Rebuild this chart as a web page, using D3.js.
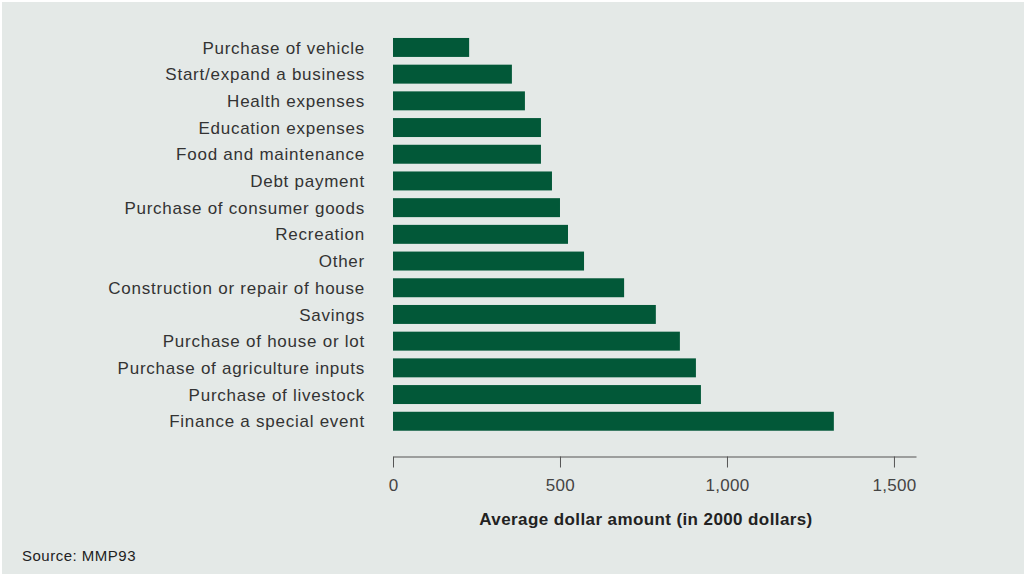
<!DOCTYPE html>
<html>
<head>
<meta charset="utf-8">
<script src="https://cdn.jsdelivr.net/npm/d3@7"></script>
<style>
  body { margin: 0; background: #fff; }
  text { font-family: "Liberation Sans", Arial, sans-serif; }
</style>
</head>
<body>
<div class="canvas"></div>
<script>
// data
const categories = [
  'Purchase of vehicle',
  'Start/expand a business',
  'Health expenses',
  'Education expenses',
  'Food and maintenance',
  'Debt payment',
  'Purchase of consumer goods',
  'Recreation',
  'Other',
  'Construction or repair of house',
  'Savings',
  'Purchase of house or lot',
  'Purchase of agriculture inputs',
  'Purchase of livestock',
  'Finance a special event'
];
const amounts = [228, 356, 395, 443, 443, 476, 500, 524, 572, 692, 787, 859, 907, 922, 1320];
const tickValues = [0, 500, 1000, 1500];
const axisTitle = 'Average dollar amount (in 2000 dollars)';
const sourceNote = 'Source: MMP93';

const width = 1026, height = 577;

const svg = d3.select('.canvas')
    .append('svg')
    .attr('width', width)
    .attr('height', height);

// panel background
svg.append('rect')
    .attr('x', 2).attr('y', 2)
    .attr('width', width - 4).attr('height', height - 5)
    .attr('fill', '#e4e9e7');

const x = d3.scaleLinear()
    .domain([0, 1566])
    .range([393, 916]);

const y = d3.scaleBand()
    .domain(categories)
    .range([34.1, 434.6])
    .paddingInner(0.29)
    .paddingOuter(0.145);

// bars
svg.selectAll('rect.bar')
    .data(categories)
    .enter()
    .append('rect')
    .attr('class', 'bar')
    .attr('x', x(0))
    .attr('y', d => y(d))
    .attr('width', (d, i) => x(amounts[i]) - x(0))
    .attr('height', y.bandwidth())
    .attr('fill', '#025838');

// category labels
svg.selectAll('text.cat')
    .data(categories)
    .enter()
    .append('text')
    .attr('class', 'cat')
    .attr('x', 365)
    .attr('y', d => y(d) + y.bandwidth() / 2)
    .attr('dy', '0.36em')
    .attr('text-anchor', 'end')
    .attr('font-size', 17)
    .attr('letter-spacing', 0.75)
    .attr('fill', '#333')
    .text(d => d);

// x axis
const axisY = 456.5;
const xAxisGroup = svg.append('g')
    .attr('transform', `translate(0, ${axisY})`);

const xAxis = d3.axisBottom(x)
    .tickValues(tickValues)
    .tickSize(11)
    .tickSizeOuter(0)
    .tickPadding(11)
    .tickFormat(d3.format(','));

xAxisGroup.call(xAxis);
xAxisGroup.select('.domain').attr('stroke', '#555').attr('stroke-width', 1.2);
xAxisGroup.selectAll('.tick line').attr('stroke', '#555');
xAxisGroup.selectAll('.tick text')
    .attr('font-size', 17)
    .attr('letter-spacing', 0.3)
    .attr('fill', '#444')
    .style('font-family', '"Liberation Sans", Arial, sans-serif');

svg.append('text')
    .attr('x', 646)
    .attr('y', 525)
    .attr('text-anchor', 'middle')
    .attr('font-size', 17)
    .attr('letter-spacing', 0.4)
    .attr('font-weight', 'bold')
    .attr('fill', '#222')
    .text(axisTitle);

svg.append('text')
    .attr('x', 22)
    .attr('y', 561)
    .attr('font-size', 15)
    .attr('letter-spacing', 0.5)
    .attr('fill', '#222')
    .text(sourceNote);
</script>
</body>
</html>
